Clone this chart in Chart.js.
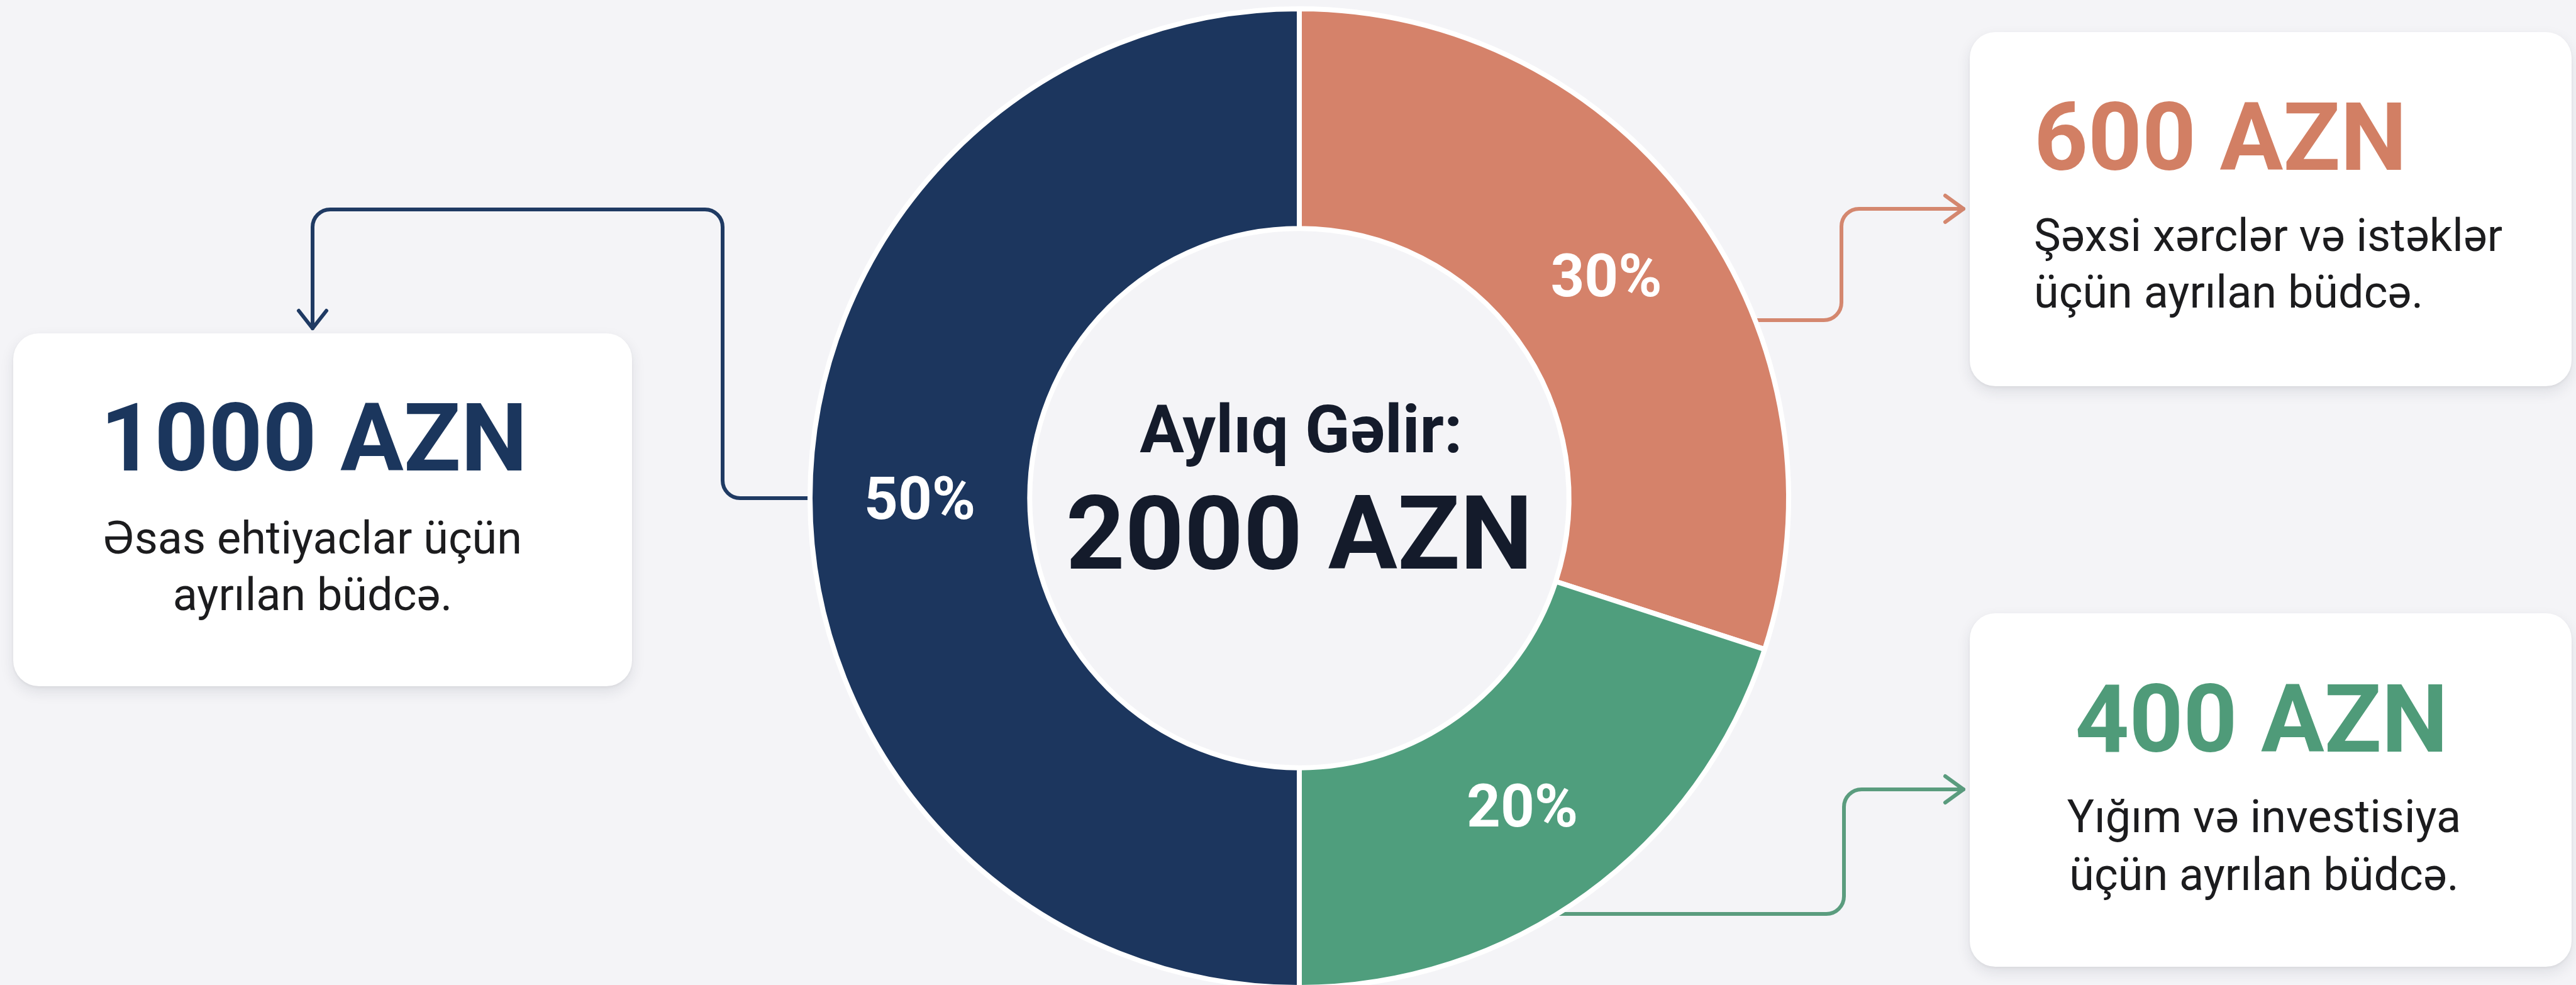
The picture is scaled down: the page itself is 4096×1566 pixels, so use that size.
<!DOCTYPE html>
<html lang="az">
<head>
<meta charset="utf-8">
<title>Aylıq Gəlir: 2000 AZN</title>
<script src="https://cdn.jsdelivr.net/npm/chart.js@4.4.1/dist/chart.umd.min.js"></script>
<style>
html,body{margin:0;padding:0;width:4096px;height:1566px;overflow:hidden;background:#f4f4f7;font-family:Roboto,"Noto Sans",sans-serif;}
#wrap{position:relative;width:4096px;height:1566px;overflow:hidden;background:#f4f4f7;}
#chartBox{position:absolute;left:0;top:0;width:4096px;height:1600px;}
.card{position:absolute;background:#ffffff;border-radius:41px;box-shadow:0 9px 22px rgba(25,35,55,0.10),0 2px 5px rgba(25,35,55,0.06);}
.t{position:absolute;white-space:nowrap;line-height:1;margin:0;}
</style>
</head>
<body>
<div id="wrap">
  <div id="chartBox"><canvas id="c" width="4096" height="1600"></canvas></div>
</div>
<script>
// ---- data ----
const categories = ['Şəxsi xərclər və istəklər', 'Yığım və investisiya', 'Əsas ehtiyaclar'];
const amounts = [600, 400, 1000];
const percentLabels = ['30%', '20%', '50%'];
const amountLabels = ['600 AZN', '400 AZN', '1000 AZN'];
const descLines = [
  ['Şəxsi xərclər və istəklər', 'üçün ayrılan büdcə.'],
  ['Yığım və investisiya', 'üçün ayrılan büdcə.'],
  ['Əsas ehtiyaclar üçün', 'ayrılan büdcə.']
];
const centerTitle = 'Aylıq Gəlir:';
const centerValue = '2000 AZN';

// ---- styles / layout ----
const sliceColors = ['#d5826a', '#4f9e7d', '#1c365e'];
const amountColors = ['#d27f64', '#4f9b79', '#1b365d'];
const lineColors = ['#d4876f', '#5a9c7e', '#1f3a63'];
const textDark = '#1c1c1e';
const centerColor = '#141b2b';

const cards = [
  {box:{x:3132,y:51,w:957,h:563},  align:'left',   ax:3234, ab:270,  dx:3234, db:[400,490]},
  {box:{x:3132,y:975,w:957,h:562}, align:'center', ax:3596, ab:1195, dx:3600, db:[1324,1416]},
  {box:{x:21,y:530,w:984,h:561},   align:'center', ax:499,  ab:748,  dx:497,  db:[881,971]}
];
const amountFont = 150, descFont = 72, pctFont = 94;

// connector routes (after leaving the ring): list of points, arrow direction
const connectors = [
  {i:0, y0:509,  side:'right', pts:[[2928,509],[2928,332],[3122,332]], dir:'right'},
  {i:1, y0:1453, side:'right', pts:[[2932,1453],[2932,1255],[3122,1255]], dir:'right'},
  {i:2, y0:null, side:'left',  pts:[[1149,null],[1149,333],[497,333],[497,522]], dir:'down'}
];

const wrap = document.getElementById('wrap');
function addText(str, left, baseline, fs, weight, color, align){
  const d = document.createElement('div');
  d.className = 't';
  d.textContent = str;
  d.style.fontSize = fs + 'px';
  d.style.fontWeight = weight;
  d.style.color = color;
  d.style.top = (baseline - 0.842 * fs) + 'px';
  d.style.left = left + 'px';
  if (align === 'center') d.style.transform = 'translateX(-50%)';
  wrap.appendChild(d);
  return d;
}
cards.forEach((c, i) => {
  const b = document.createElement('div');
  b.className = 'card';
  b.style.left = c.box.x + 'px'; b.style.top = c.box.y + 'px';
  b.style.width = c.box.w + 'px'; b.style.height = c.box.h + 'px';
  wrap.appendChild(b);
  addText(amountLabels[i], c.ax, c.ab, amountFont, 700, amountColors[i], c.align);
  descLines[i].forEach((ln, k) => addText(ln, c.dx, c.db[k], descFont, 400, textDark, c.align));
});
addText(centerTitle, 2069, 719, 105, 700, centerColor, 'center');
addText(centerValue, 2066, 904, 164, 700, centerColor, 'center');

function roundedPath(ctx, pts, r){
  ctx.beginPath();
  ctx.moveTo(pts[0][0], pts[0][1]);
  for (let k = 1; k < pts.length - 1; k++) {
    ctx.arcTo(pts[k][0], pts[k][1], pts[k+1][0], pts[k+1][1], r);
  }
  const last = pts[pts.length - 1];
  ctx.lineTo(last[0], last[1]);
  ctx.stroke();
}

const connectorPlugin = {
  id: 'connectors',
  beforeDatasetsDraw(chart){
    const meta = chart.getDatasetMeta(0);
    const a0 = meta.data[0];
    const cx = a0.x, cy = a0.y, R = a0.outerRadius;
    const ctx = chart.ctx;
    ctx.save();
    ctx.lineWidth = 6;
    ctx.lineCap = 'round';
    ctx.lineJoin = 'round';
    connectors.forEach(c => {
      const y0 = c.y0 === null ? cy : c.y0;
      const dx = Math.sqrt(Math.max(R*R - (y0-cy)*(y0-cy), 0));
      const sx = c.side === 'left' ? cx - dx + 14 : cx + dx - 14;
      const pts = [[sx, y0]].concat(c.pts.map(p => [p[0], p[1] === null ? y0 : p[1]]));
      ctx.strokeStyle = lineColors[c.i];
      roundedPath(ctx, pts, 28);
      const tip = pts[pts.length - 1];
      ctx.beginPath();
      if (c.dir === 'right') {
        ctx.moveTo(tip[0] - 29, tip[1] - 21); ctx.lineTo(tip[0], tip[1]); ctx.lineTo(tip[0] - 29, tip[1] + 21);
      } else {
        ctx.moveTo(tip[0] - 22, tip[1] - 28); ctx.lineTo(tip[0], tip[1]); ctx.lineTo(tip[0] + 22, tip[1] - 28);
      }
      ctx.stroke();
    });
    ctx.restore();
  }
};

const pctPlugin = {
  id: 'pctLabels',
  afterDatasetsDraw(chart){
    const ctx = chart.ctx;
    const meta = chart.getDatasetMeta(0);
    ctx.save();
    ctx.fillStyle = '#ffffff';
    ctx.font = '700 ' + pctFont + 'px Roboto, "Noto Sans", sans-serif';
    ctx.textAlign = 'center';
    ctx.textBaseline = 'alphabetic';
    meta.data.forEach((arc, i) => {
      const p = arc.tooltipPosition();
      ctx.fillText(percentLabels[i], p.x, p.y + 0.711 * pctFont / 2);
    });
    ctx.restore();
  }
};

new Chart(document.getElementById('c'), {
  type: 'doughnut',
  data: {
    labels: categories,
    datasets: [{
      data: amounts,
      backgroundColor: sliceColors,
      borderColor: '#ffffff',
      borderWidth: 8,
      hoverOffset: 0,
      hoverBorderWidth: 8
    }]
  },
  options: {
    responsive: false,
    devicePixelRatio: 1,
    animation: false,
    cutout: '55.1%',
    rotation: 0,
    layout: { padding: { left: 1284, right: 1248, top: 10, bottom: 26 } },
    plugins: { legend: { display: false }, tooltip: { enabled: false } },
    events: []
  },
  plugins: [connectorPlugin, pctPlugin]
});
</script>
</body>
</html>
